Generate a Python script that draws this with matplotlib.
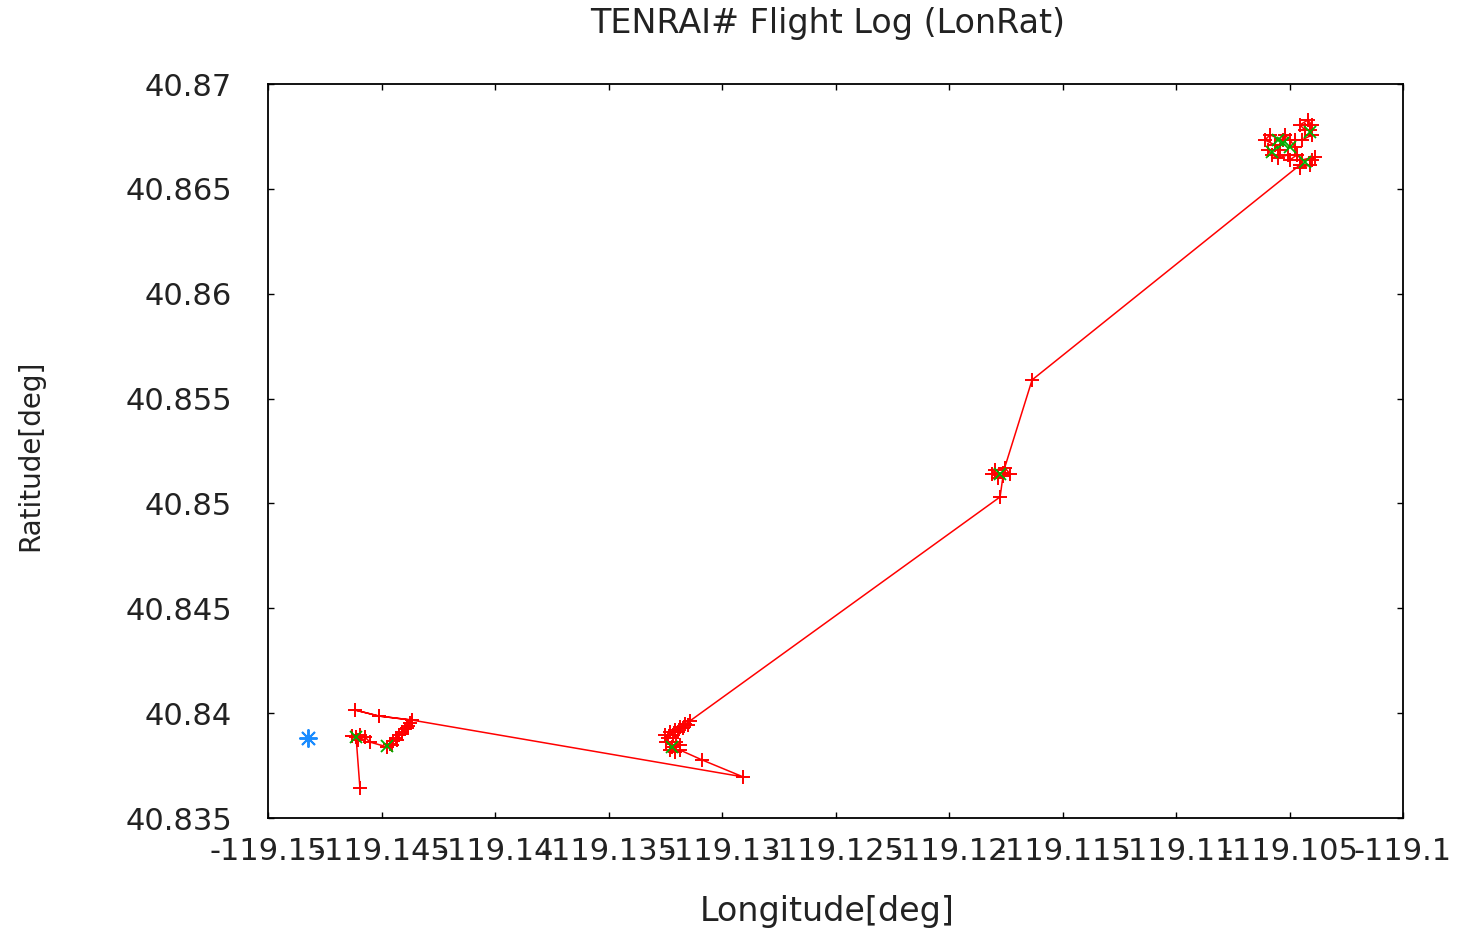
import matplotlib
matplotlib.use("Agg")
import matplotlib.pyplot as plt

# Flight path (red, linespoints)
path_lon = [-119.14595, -119.14612, -119.14630, -119.14595, -119.14604, -119.14573,
            -119.14551, -119.14476, -119.14463, -119.14454, -119.14449, -119.14432,
            -119.14436, -119.14423, -119.14410, -119.14410, -119.14396, -119.14388,
            -119.14383, -119.14374, -119.14366, -119.14511, -119.14617, -119.14511,
            -119.14366, -119.12907, -119.13088, -119.13185, -119.13207, -119.13229,
            -119.13220, -119.13185, -119.13203, -119.13247, -119.13238, -119.13251,
            -119.13216, -119.13229, -119.13194, -119.13207, -119.13172, -119.13185,
            -119.13150, -119.13163, -119.13141, -119.11775, -119.11762, -119.11784,
            -119.11811, -119.11797, -119.11753, -119.11731, -119.11762, -119.11634,
            -119.10454, -119.10454, -119.10410, -119.10401, -119.10388, -119.10445,
            -119.10467, -119.10498, -119.10507, -119.10551, -119.10577, -119.10595,
            -119.10542, -119.10564, -119.10608, -119.10586, -119.10529, -119.10520,
            -119.10498, -119.10476, -119.10476, -119.10445, -119.10401, -119.10410,
            -119.10432, -119.10454, -119.10419, -119.10401]
path_lat = [40.83643, 40.83886, 40.83891, 40.83896, 40.83872, 40.83886,
            40.83862, 40.83839, 40.83853, 40.83848, 40.83867, 40.83872,
            40.83881, 40.83896, 40.83901, 40.83910, 40.83924, 40.83929,
            40.83939, 40.83953, 40.83967, 40.83986, 40.84015, 40.83986,
            40.83967, 40.83696, 40.83777, 40.83824, 40.83815, 40.83824,
            40.83839, 40.83848, 40.83862, 40.83862, 40.83881, 40.83896,
            40.83896, 40.83910, 40.83910, 40.83920, 40.83929, 40.83934,
            40.83943, 40.83948, 40.83963, 40.85031, 40.85131, 40.85121,
            40.85140, 40.85159, 40.85169, 40.85140, 40.85145, 40.85589,
            40.86614, 40.86600, 40.86614, 40.86638, 40.86652, 40.86638,
            40.86662, 40.86638, 40.86662, 40.86647, 40.86662, 40.86685,
            40.86685, 40.86709, 40.86733, 40.86757, 40.86733, 40.86757,
            40.86733, 40.86700, 40.86733, 40.86733, 40.86757, 40.86781,
            40.86781, 40.86805, 40.86828, 40.86805]

# Waypoints (green x)
wp_lon = [-119.14612, -119.14476, -119.13220, -119.11775,
          -119.10577, -119.10529, -119.10498, -119.10432, -119.10410, -119.10551]
wp_lat = [40.83886, 40.83843, 40.83839, 40.85140,
          40.86676, 40.86719, 40.86700, 40.86628, 40.86771, 40.86733]

# Home (blue asterisk)
home_lon = [-119.14824]
home_lat = [40.83881]

xticks = [-119.15, -119.145, -119.14, -119.135, -119.13, -119.125,
          -119.12, -119.115, -119.11, -119.105, -119.1]
xtick_labels = ["-119.15", "-119.145", "-119.14", "-119.135", "-119.13", "-119.125",
                "-119.12", "-119.115", "-119.11", "-119.105", "-119.1"]
yticks = [40.835, 40.84, 40.845, 40.85, 40.855, 40.86, 40.865, 40.87]
ytick_labels = ["40.835", "40.84", "40.845", "40.85", "40.855", "40.86", "40.865", "40.87"]

plt.rcParams['font.family'] = ['DejaVu Sans']
fig = plt.figure(figsize=(14.58, 9.31), dpi=100)
ax = fig.add_axes([268/1458, 1-818/931, (1403-268)/1458, (818-84)/931])

ax.plot(path_lon, path_lat, color='#ff0000', lw=1.1, marker='+', ms=10, mew=1.4, zorder=3)
ax.plot(wp_lon, wp_lat, ls='none', color='#00b000', marker='x', ms=9, mew=1.3, zorder=4)
ax.plot(home_lon, home_lat, ls='none', color='#1a8cff', marker=(8, 2, 0), ms=13, mew=1.4, zorder=2)

ax.set_xlim(-119.15, -119.1)
ax.set_ylim(40.835, 40.87)
ax.set_xticks(xticks)
ax.set_xticklabels(xtick_labels, fontsize=22, color='#222222')
ax.set_yticks(yticks)
ax.set_yticklabels(ytick_labels, fontsize=22, color='#222222')
ax.tick_params(direction='in', length=4, width=1, top=True, right=True)
ax.tick_params(axis='y', pad=26)
ax.tick_params(axis='x', pad=14)
for s in ax.spines.values():
    s.set_linewidth(1.3)

ax.set_xlabel("Longitude[deg]", fontsize=24, color='#222222')
ax.xaxis.set_label_coords(0.493, -0.128)
ax.xaxis.label.set_va('center')
ax.set_ylabel("Ratitude[deg]", fontsize=20, color='#222222')
ax.yaxis.set_label_coords(-0.2097, 0.4946)
ax.yaxis.label.set_va('center')

fig.text(828/1458, 1-24/931, "TENRAI# Flight Log (LonRat)", fontsize=24,
         ha='center', va='center', color='#222222')

fig.savefig("out.png", dpi=100)
